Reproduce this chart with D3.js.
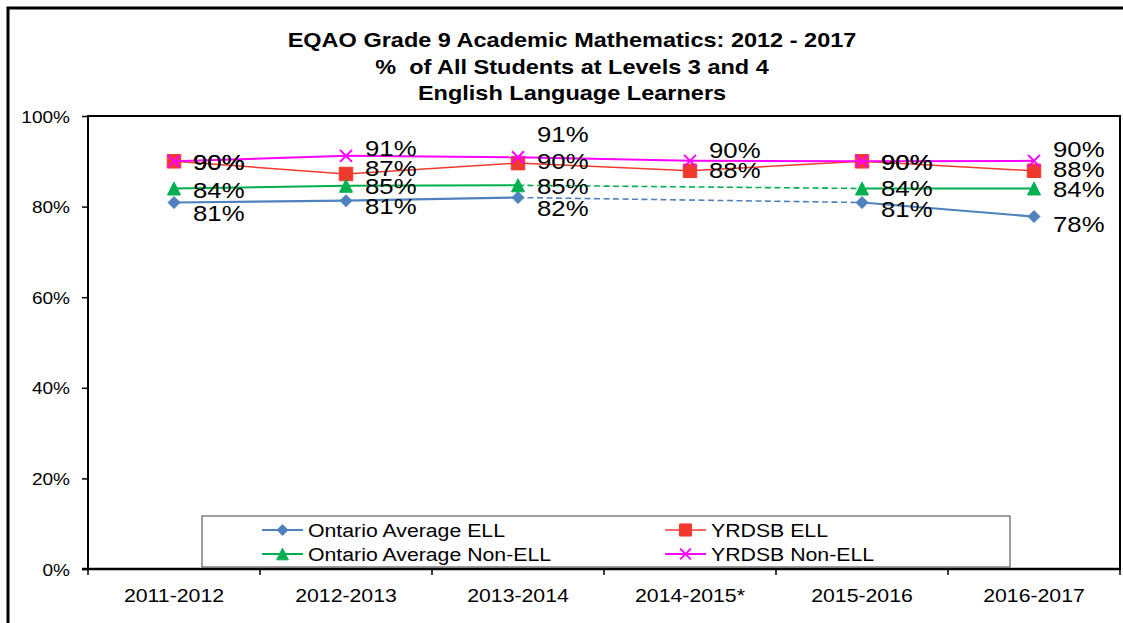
<!DOCTYPE html>
<html>
<head>
<meta charset="utf-8">
<script src="https://cdn.jsdelivr.net/npm/d3@7"></script>
<style>
	body { margin: 0; background: #fff; }
	text { font-family: Arial, "Liberation Sans", sans-serif; fill: #000; white-space: pre; }
</style>
</head>
<body>
<svg id="chart" width="1123" height="623"></svg>
<script>
// values
const years			= ['2011-2012', '2012-2013', '2013-2014', '2014-2015*', '2015-2016', '2016-2017'];
const ontarioEll	= [80.9, 81.3, 82.0, null, 80.9, 77.8];
const yrdsbEll		= [90.0, 87.2, 89.6, 87.9, 90.0, 87.9];
const ontarioNonEll	= [84.0, 84.6, 84.7, null, 84.0, 84.0];
const yrdsbNonEll	= [90.0, 91.2, 90.9, 90.1, 90.0, 90.1];
const yTicks		= [0, 20, 40, 60, 80, 100];
const titleLines	= ['EQAO Grade 9 Academic Mathematics: 2012 - 2017', '%  of All Students at Levels 3 and 4', 'English Language Learners'];
const seriesNames	= ['Ontario Average ELL', 'YRDSB ELL', 'Ontario Average Non-ELL', 'YRDSB Non-ELL'];

// the source picture is stretched a bit horizontally
const stretch = 1.12;

// custom markers, size = edge length squared
const diamond	= { draw(c, s) { let r = Math.sqrt(s) / 2; c.moveTo(0, -r); c.lineTo(r, 0); c.lineTo(0, r); c.lineTo(-r, 0); c.closePath(); } };
const square	= { draw(c, s) { let r = Math.sqrt(s) / 2; c.rect(-r, -r, 2 * r, 2 * r); } };
const triangle	= { draw(c, s) { let r = Math.sqrt(s) / 2; c.moveTo(0, -r); c.lineTo(r, r); c.lineTo(-r, r); c.closePath(); } };
const cross		= { draw(c, s) { let r = Math.sqrt(s) / 2; c.moveTo(-r, -r); c.lineTo(r, r); c.moveTo(r, -r); c.lineTo(-r, r); } };

const series = [
	{ name: seriesNames[0], values: ontarioEll,		color: '#4F81BD', width: 2.2, marker: diamond,	size: 144, fill: '#4F81BD', labelDy: [10, 5, 10, 0, 6, 7] },
	{ name: seriesNames[1], values: yrdsbEll,		color: '#EF3A2D', width: 1.5, marker: square,	size: 182, fill: '#EF3A2D', labelDy: [0, -6, -2, -1, 0, -2] },
	{ name: seriesNames[2], values: ontarioNonEll,	color: '#00B050', width: 2,   marker: triangle,	size: 169, fill: '#00B050', labelDy: [1, 0, 0, 0, -1, 0] },
	{ name: seriesNames[3], values: yrdsbNonEll,	color: '#FF00FF', width: 2,   marker: cross,	size: 144, fill: 'none',    labelDy: [0, -8, -24, -11, 0, -12] }
];

let svg		= d3.select('#chart');
let plotLeft = 88, plotRight = 1120, plotTop = 116, plotBottom = 569;

let x		= d3.scaleBand().domain(years).range([plotLeft, plotRight]);
let y		= d3.scaleLinear().domain([0, 100]).range([plotBottom, plotTop]);

function stretchedText(parent, px, py, str) {
	return parent.append('g').attr('transform', 'translate(' + px + ',' + py + ') scale(' + stretch + ',1)').append('text').text(str);
}

// outer frame
svg.append('rect').attr('x', 8).attr('y', 8).attr('width', 1130).attr('height', 630).style('fill', 'none').style('stroke', '#000').style('stroke-width', 3);

// title
titleLines.forEach((t, i) => {
	stretchedText(svg, 572, 47 + i * 26.5, t).attr('text-anchor', 'middle').style('font-size', '21px').style('font-weight', 'bold');
});

// plot area
svg.append('rect').attr('x', plotLeft).attr('y', plotTop).attr('width', plotRight - plotLeft).attr('height', plotBottom - plotTop).style('fill', '#fff').style('stroke', '#000').style('stroke-width', 2);

// y axis
let yAxis = svg.append('g').attr('transform', 'translate(' + plotLeft + ',0)')
	.call(d3.axisLeft(y).tickValues(yTicks).tickSize(6).tickFormat(d => d + '%'));
yAxis.select('.domain').remove();
yAxis.selectAll('line').style('stroke', '#000').style('stroke-width', 1.5);
yAxis.selectAll('text').attr('x', 0).attr('dy', null).attr('transform', 'translate(-18,6) scale(' + stretch + ',1)')
	.style('font-size', '17px').style('font-family', 'Arial, "Liberation Sans", sans-serif').style('fill', '#000');

// x axis: labels at band centres, ticks at band edges
let xAxis = svg.append('g').attr('transform', 'translate(0,' + plotBottom + ')')
	.call(d3.axisBottom(x).tickSize(0));
xAxis.select('.domain').remove();
xAxis.selectAll('text').attr('y', 0).attr('dy', null).attr('transform', 'translate(0,33) scale(' + stretch + ',1)')
	.style('font-size', '19px').style('font-family', 'Arial, "Liberation Sans", sans-serif').style('fill', '#000');
svg.append('g').selectAll('line').data(d3.range(years.length + 1)).join('line')
	.attr('x1', i => plotLeft + i * x.step()).attr('x2', i => plotLeft + i * x.step())
	.attr('y1', plotBottom).attr('y2', plotBottom + 6).style('stroke', '#000').style('stroke-width', 1.5);
svg.append('line').attr('x1', plotLeft - 6).attr('x2', plotRight).attr('y1', plotBottom).attr('y2', plotBottom).style('stroke', '#000').style('stroke-width', 2.5);

// series
let line = d3.line().x(d => x(d.year) + x.bandwidth() / 2).y(d => y(d.value));

series.forEach(s => {
	let pts		= s.values.map((v, i) => ({ year: years[i], value: v, i }));
	let known	= pts.filter(p => p.value !== null);
	let g		= svg.append('g');

	for (let k = 1; k < known.length; k++) {
		let gap = known[k].i - known[k - 1].i > 1;
		g.append('path').attr('d', line([known[k - 1], known[k]]))
			.style('fill', 'none').style('stroke', s.color).style('stroke-width', gap ? 1.6 : s.width)
			.style('stroke-dasharray', gap ? '6,3.5' : null);
	}

	g.selectAll('path.marker').data(known).join('path').attr('class', 'marker')
		.attr('transform', d => 'translate(' + (x(d.year) + x.bandwidth() / 2) + ',' + y(d.value) + ')')
		.attr('d', d3.symbol().type(s.marker).size(s.size))
		.style('fill', s.fill).style('stroke', s.color).style('stroke-width', s.fill === 'none' ? 2 : 1);
});

// data labels on top
let fmt = d3.format('.0f');
series.forEach(s => {
	s.values.forEach((v, i) => {
		if (v === null) return;
		stretchedText(svg, x(years[i]) + x.bandwidth() / 2 + 19, y(v) + s.labelDy[i] + 8.3, fmt(v) + '%').style('font-size', '23px');
	});
});

// legend
let legend = svg.append('g');
legend.append('rect').attr('x', 202).attr('y', 516).attr('width', 808).attr('height', 51).style('fill', '#fff').style('stroke', '#404040').style('stroke-width', 1);

let slots = [[262, 530], [665, 530], [262, 554], [665, 554]];
series.forEach((s, i) => {
	let lx = slots[i][0], ly = slots[i][1];
	let item = legend.append('g');
	item.append('line').attr('x1', lx).attr('x2', lx + 41).attr('y1', ly).attr('y2', ly).style('stroke', s.color).style('stroke-width', s.width);
	item.append('path').attr('transform', 'translate(' + (lx + 20.5) + ',' + ly + ')')
		.attr('d', d3.symbol().type(s.marker).size(s.size * 0.8))
		.style('fill', s.fill).style('stroke', s.color).style('stroke-width', s.fill === 'none' ? 2 : 1);
	stretchedText(item, lx + 46, ly + 6.8, s.name).style('font-size', '19px');
});
</script>
</body>
</html>
